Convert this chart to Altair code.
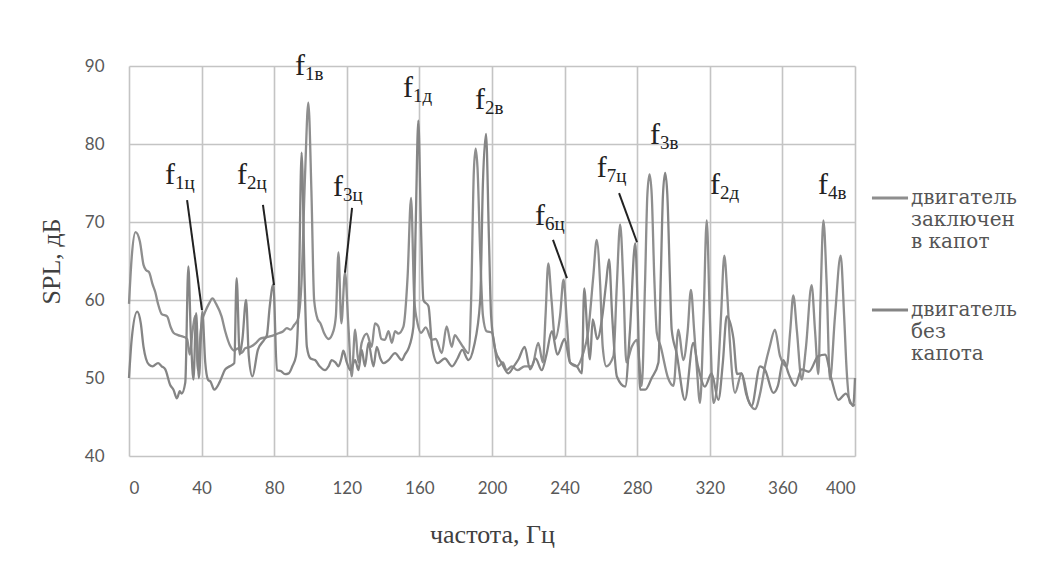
import altair as alt
import pandas as pd

# ---- series 1: двигатель заключен в капот
a_freq = [0, 1.5, 3.6, 6, 8, 9.5, 11, 13, 14.5, 16, 18, 21, 23, 24.5, 27, 30, 32, 33.5, 35, 36.5,
          38, 39.5, 40.5, 42, 44, 46, 48, 51, 53, 56, 58, 60, 62, 64, 67, 70, 72, 75, 77, 80,
          82, 85, 87, 89, 91, 93, 95, 97, 98.8, 100.5, 102, 104, 105.5, 107.4, 110, 112.6, 114, 115.4, 117, 119,
          120.9, 122.7, 124.6, 126.4, 128.2, 131, 133.7, 135.5, 137.4, 139, 141, 143, 144.8, 146.6, 148.4, 151.2, 153.5, 155.4, 157.2, 159,
          161, 163.5, 166.8, 169, 172.3, 175, 177.8, 179.5, 181.5, 184, 187, 188.5, 190, 191, 192, 193.5, 195, 197, 200, 203.5, 206, 208,
          210.9, 214, 218, 222, 225.5, 228, 229.5, 231, 232.8, 234.8, 237.5, 239.4, 241.3, 243, 246.7, 250, 253, 255.8, 257.7, 259.6,
          261, 263, 266.9, 268.8, 270.6, 272.4, 274, 277, 279.8, 282.5, 284.3, 285.6, 286.8, 288, 289.4, 290.8, 293, 297, 300, 302.7, 305.4, 307.8,
          309.6, 311.4, 312.8, 314.6, 316.6, 318.3, 320, 322, 324, 326.2, 328, 329.8, 331, 333.9, 337.5, 341.2, 344.9, 347.7, 350.4, 353,
          355.9, 358.7, 362.4, 364.3, 366, 368, 370.6, 373, 376.1, 378, 379.8, 381, 382.6, 384.4, 386.2, 389, 392.1, 394, 395.4, 397.3,
          400]
a_spl = [59.5, 65.5, 68.7, 67.5, 64.5, 63.8, 63.6, 62, 61, 59.5, 58.2, 57.9, 56.5, 55.8, 55.5, 55.3, 55, 53, 56, 58,
         51, 56, 57.5, 58.5, 59.5, 60.2, 59.5, 57.9, 56, 54, 53.5, 53.8, 53.2, 53.8, 54, 54.5, 55, 55.2, 55.3, 55.5,
         55.7, 56, 56.4, 56.2, 56.8, 57.5, 62, 76, 85.3, 74, 60, 57.5, 57, 55.8, 55, 56, 58, 66.1, 57, 63.5,
         56.6, 50.2, 56.2, 52, 54.5, 55.7, 54, 57, 56.6, 55, 54.9, 56, 54.5, 56, 55.7, 56.6, 63, 73.1, 60, 57,
         55.8, 56.5, 54.9, 55, 53.2, 56.6, 54, 55.5, 54.9, 54, 53.2, 60, 76.5, 79.4, 77, 66, 58, 56, 55.8, 51.5, 52, 51,
         51.5, 51, 51.5, 51.5, 54.5, 52, 58, 64.7, 60, 55, 58, 62.6, 57, 52, 51.5, 53, 56, 63, 67.7, 62,
         54, 51.5, 52.8, 62, 69.7, 62, 52, 54, 54.9, 49, 62, 73.5, 76.1, 73.5, 63, 55.8, 54, 50, 49, 56.2, 52.3, 56,
         61.3, 56, 51.5, 46.8, 58, 70.2, 58, 46.8, 49, 58, 65.7, 60, 54.9, 48.1, 50.6, 47.2, 46, 48, 51.5, 54,
         56.2, 52.8, 51.5, 56, 60.6, 56, 49.8, 54, 61.9, 56, 50.5, 60, 70.2, 62, 49.8, 58, 65.7, 58, 51, 46.8,
         46.5]

# ---- series 2: двигатель без капота
b_freq = [0, 1.5, 4.5, 6.5, 8, 11, 13, 16, 18, 20, 22.7, 24.5, 26.4, 28, 29, 31, 32.7, 34, 35.5, 37,
          38.5, 40.4, 42, 43.5, 45, 47, 50, 53, 55.5, 58, 59.3, 61, 62.5, 64.5, 66, 68, 71, 74.5, 76, 77.5,
          79.5, 81.5, 83.6, 86, 88, 90, 92, 93.5, 95.1, 96.8, 98, 100, 102.5, 105, 108, 110, 111.7, 113.7, 115.4, 117,
          118.1, 120, 122, 124.6, 126.4, 128.2, 130, 131.9, 134.7, 136.5, 138.5, 140.2, 143, 146.6, 150.3, 152, 154, 156.7, 158, 159.4,
          160.8, 162.2, 165, 167, 170, 174, 178, 181, 183.6, 187, 190, 193.5, 195, 196.7, 198.3, 199.5, 201.8, 205.4, 209, 212,
          214.6, 218, 221, 224, 227.4, 230, 233, 236, 240, 243, 246.7, 249.5, 250.8, 252.5, 254, 255.5, 258, 261, 262.8, 264.5,
          266.2, 268.8, 273.4, 276, 278.9, 280.4, 281.6, 284.4, 288, 291.7, 293, 294.2, 295.4, 296.6, 298, 299, 301.7, 306.3, 310.9, 313.5, 317.3, 321,
          324.7, 327.2, 329.3, 333, 335, 337.5, 340, 343, 347.7, 350.5, 355, 357.5, 360.5, 363.5, 367, 370.6, 374.5, 379.8, 383.5, 387.1,
          390.8, 395, 399, 400]
b_spl = [50, 55, 58.5, 57, 54, 51.7, 51.5, 51.9, 51.5, 51.1, 49.1, 48.5, 47.4, 48.3, 48, 49.4, 64.3, 56, 49.8, 58.3,
         50, 58.5, 52, 49.8, 49.5, 48.5, 49.5, 51.1, 51.5, 51.9, 62.8, 53, 55, 60, 52.8, 50.2, 53.6, 54.9, 55.5, 59.1,
         62, 51, 50.9, 50.5, 50.6, 51.5, 52.8, 60, 78.9, 62, 54, 52.5, 52.3, 51.5, 51, 51.5, 52.3, 52, 51.5, 52.5,
         53.5, 52, 51, 52.3, 51, 53.6, 51.5, 54.5, 51.5, 54, 52.5, 51.9, 52.3, 53.2, 52.3, 53, 53.8, 56.6, 70, 83,
         70, 60, 59.2, 54, 51.9, 52.5, 51.5, 52.5, 53.6, 52.3, 54, 60, 75, 81.3, 68, 58, 53.6, 51.9, 50.6, 51.5,
         52.4, 54, 51.1, 52.5, 51, 53, 56, 53, 55, 52, 51.5, 50.6, 61.5, 56, 52.4, 57.5, 55, 58.3, 62, 65.2,
         58, 50.2, 48.9, 56, 67.3, 58, 48.5, 48.5, 50, 52, 63, 73.5, 76.3, 73.5, 63, 56.2, 53.2, 47.2, 54.5, 51.5, 48.9, 50.6,
         47.2, 52, 57.9, 55.1, 50.5, 50.6, 48, 46.4, 51.5, 51, 48.1, 49, 52.3, 50.5, 49, 51.1, 50.8, 52.8, 53, 49.8,
         47.2, 48, 46.4, 50]

# legend labels ('|' = line break)
series_names = ["двигатель|заключен|в капот", "двигатель|без|капота"]
series_colors = ["#8e8e8e", "#858585"]

# ---- axis ticks
x_ticks = list(range(0, 401, 20))
y_ticks = [40, 50, 60, 70, 80, 90]

# ---- annotations ("f" + subscript)
ann_x = [22.6, 62.3, 115.2, 94.2, 153.7, 193.4, 226.4, 260.4, 289.8, 322.9, 382.4]
ann_y = [76.0, 76.0, 74.5, 90.0, 87.2, 85.6, 70.8, 76.9, 81.2, 74.7, 74.7]
ann_sub = ["1ц", "2ц", "3ц", "1в", "1д", "2в", "6ц", "7ц", "3в", "2д", "4в"]

# ---- pointer lines
ptr_x1 = [32.0, 73.8, 122.9, 233.6, 270.0]
ptr_y1 = [72.8, 72.2, 71.8, 67.7, 73.7]
ptr_x2 = [40.2, 79.9, 119.0, 241.3, 279.9]
ptr_y2 = [58.7, 61.9, 63.5, 62.8, 67.4]

df = pd.concat([
    pd.DataFrame({"freq": a_freq, "spl": a_spl, "series": series_names[0], "order": range(len(a_freq))}),
    pd.DataFrame({"freq": b_freq, "spl": b_spl, "series": series_names[1], "order": range(len(b_freq))}),
])
ann = pd.DataFrame({"x": ann_x, "y": ann_y, "sub": ann_sub})
ptr = pd.DataFrame({"x": ptr_x1, "y": ptr_y1, "x2": ptr_x2, "y2": ptr_y2})

serif = "Liberation Serif"
wide_serif = "DejaVu Serif"
sans = "Lato"

xscale = alt.Scale(domain=[0, 400], nice=False, zero=False)
yscale = alt.Scale(domain=[40, 90], nice=False, zero=False)

x_axis = alt.Axis(values=x_ticks, labelExpr="datum.value % 40 == 0 ? datum.label : ''",
                  title="частота, Гц", titleFont=serif, titleFontSize=26, titleFontWeight="normal",
                  titleColor="#404040", titlePadding=25,
                  labelFont=sans, labelFontSize=17, labelColor="#595959", labelPadding=24,
                  ticks=False, domain=False, grid=True, gridColor="#c4c4c4", gridWidth=1.6)
y_axis = alt.Axis(values=y_ticks, title="SPL, дБ", titleFont=serif, titleFontSize=26,
                  titleFontWeight="normal", titleColor="#404040", titlePadding=20,
                  labelFont=sans, labelFontSize=17, labelColor="#595959", labelPadding=25,
                  ticks=False, domain=False, grid=True, gridColor="#c4c4c4", gridWidth=1.6)

lines = alt.Chart(df).mark_line(strokeWidth=2.3, interpolate="monotone").encode(
    x=alt.X("freq:Q", scale=xscale, axis=x_axis),
    y=alt.Y("spl:Q", scale=yscale, axis=y_axis),
    color=alt.Color("series:N", scale=alt.Scale(domain=series_names, range=series_colors),
                    legend=alt.Legend(title=None, orient="none", legendX=741, legendY=112,
                                      symbolType="stroke", symbolSize=1300, symbolStrokeWidth=3,
                                      labelFont=wide_serif, labelFontSize=20, labelColor="#555555",
                                      labelExpr="split(datum.label, '|')", labelLimit=0,
                                      labelBaseline="middle", rowPadding=38, labelOffset=1)),
    order="order:Q",
)

pointers = alt.Chart(ptr).mark_rule(color="#222222", strokeWidth=2).encode(
    x="x:Q", y="y:Q", x2="x2:Q", y2="y2:Q")

f_text = alt.Chart(ann).mark_text(text="f", font=serif, fontSize=30, align="center",
                                  baseline="middle", color="#222222").encode(x="x:Q", y="y:Q")
sub_text = alt.Chart(ann).mark_text(font=serif, fontSize=19, align="left", baseline="middle",
                                    dx=5, dy=8, color="#222222").encode(x="x:Q", y="y:Q", text="sub:N")

chart = alt.layer(lines, pointers, f_text, sub_text).properties(
    width=726, height=390,
    padding={"left": 129, "top": 66, "right": 187, "bottom": 106},
    autosize=alt.AutoSizeParams(type="none"),
    background="white",
).configure_view(stroke=None)

chart.save("out.html", embed_options={"renderer": "svg", "actions": False})
